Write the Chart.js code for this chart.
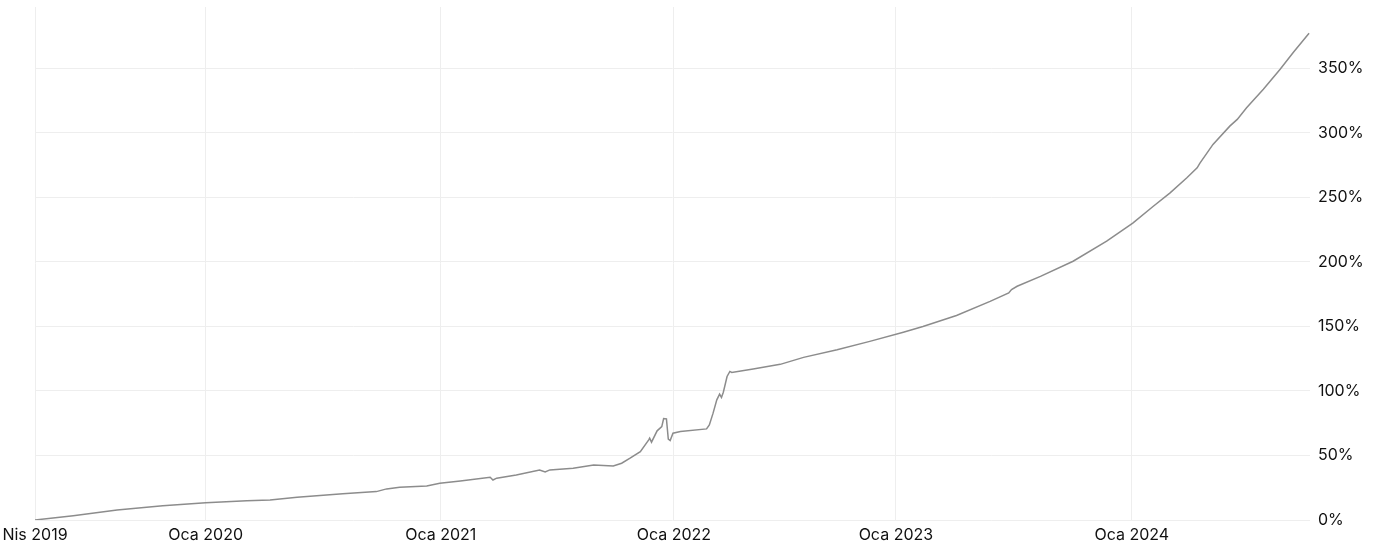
<!DOCTYPE html>
<html>
<head>
<meta charset="utf-8">
<script src="https://cdn.jsdelivr.net/npm/chart.js@4.4.1/dist/chart.umd.min.js"></script>
<style>
  html, body { margin: 0; padding: 0; background: #ffffff; overflow: hidden; }
  #wrap { position: relative; width: 1388px; height: 550px; }
</style>
</head>
<body>
<div id="wrap"><canvas id="c"></canvas></div>
<script>
// x = trading-day index since Apr 2019
const dayIndex = [0, 41, 88, 137, 183, 227, 252, 281, 330, 366, 377, 391, 420, 434, 456, 488, 491, 495, 516, 541, 547, 552, 577, 599, 620, 629, 638, 649, 658, 659, 661, 667, 672, 674, 677, 679, 681, 684, 692, 720, 723, 727, 731, 734, 736, 738, 742, 745, 747, 770, 799, 824, 860, 895, 931, 952, 988, 1024, 1044, 1047, 1053, 1078, 1113, 1149, 1177, 1199, 1217, 1235, 1246, 1249, 1263, 1281, 1289, 1299, 1317, 1335, 1349, 1366];
const returnPct = [0, 3.3, 7.8, 11.1, 13.4, 15.0, 15.5, 17.6, 20.4, 22.0, 24.1, 25.4, 26.4, 28.5, 30.3, 33.1, 31.0, 32.4, 34.9, 38.8, 37.2, 38.8, 40.1, 42.7, 41.9, 44.0, 47.9, 53.0, 62.1, 63.4, 60.3, 69.1, 72.4, 78.6, 78.4, 62.6, 61.5, 67.3, 68.5, 70.6, 73.7, 82.8, 93.1, 97.5, 95.0, 99.0, 111.2, 115.1, 114.3, 117.0, 120.6, 126.0, 131.9, 138.4, 145.5, 150.0, 158.5, 169.4, 175.9, 178.5, 181.1, 188.8, 200.5, 216.0, 230.0, 243.1, 253.5, 265.2, 272.9, 276.5, 291.0, 305.2, 310.4, 319.5, 333.7, 349.2, 362.2, 377.2];
const tickIndex = [0, 183, 435, 685, 923, 1176];
const tickLabels = ['Nis 2019', 'Oca 2020', 'Oca 2021', 'Oca 2022', 'Oca 2023', 'Oca 2024'];
const yTicks = [0, 50, 100, 150, 200, 250, 300, 350];
const xMax = 1367;
const yMax = 397.5;

const points = dayIndex.map((d, i) => ({ x: d, y: returnPct[i] }));
const FONT = { family: 'Inter, "Noto Sans", sans-serif', size: 16 };

new Chart(document.getElementById('c'), {
  type: 'line',
  data: {
    datasets: [{
      data: points,
      borderColor: '#8c8c8c',
      borderWidth: 1.5,
      pointRadius: 0,
      tension: 0,
      fill: false
    }]
  },
  options: {
    responsive: true,
    maintainAspectRatio: false,
    animation: false,
    layout: { padding: { top: 7, left: 0, right: 0, bottom: 0 } },
    plugins: { legend: { display: false }, tooltip: { enabled: false } },
    scales: {
      x: {
        type: 'linear',
        min: 0,
        max: xMax,
        afterBuildTicks: (s) => { s.ticks = tickIndex.map(v => ({ value: v })); },
        afterFit: (s) => { s.height = 30; s.paddingLeft = 35; s.paddingRight = 0; },
        ticks: {
          autoSkip: false,
          maxRotation: 0,
          padding: 6,
          color: '#111111',
          font: FONT,
          callback: (v) => { const i = tickIndex.indexOf(v); return i >= 0 ? tickLabels[i] : ''; }
        },
        grid: { color: '#eeeeee', lineWidth: 1, drawTicks: false },
        border: { display: false }
      },
      y: {
        position: 'right',
        min: 0,
        max: yMax,
        afterBuildTicks: (s) => { s.ticks = yTicks.map(v => ({ value: v })); },
        afterFit: (s) => { s.width = 78; s.paddingTop = 0; s.paddingBottom = 0; },
        ticks: {
          padding: 8,
          color: '#111111',
          font: FONT,
          callback: (v) => v + '%'
        },
        grid: { color: '#eeeeee', lineWidth: 1, drawTicks: false },
        border: { display: false }
      }
    }
  }
});
</script>
</body>
</html>
